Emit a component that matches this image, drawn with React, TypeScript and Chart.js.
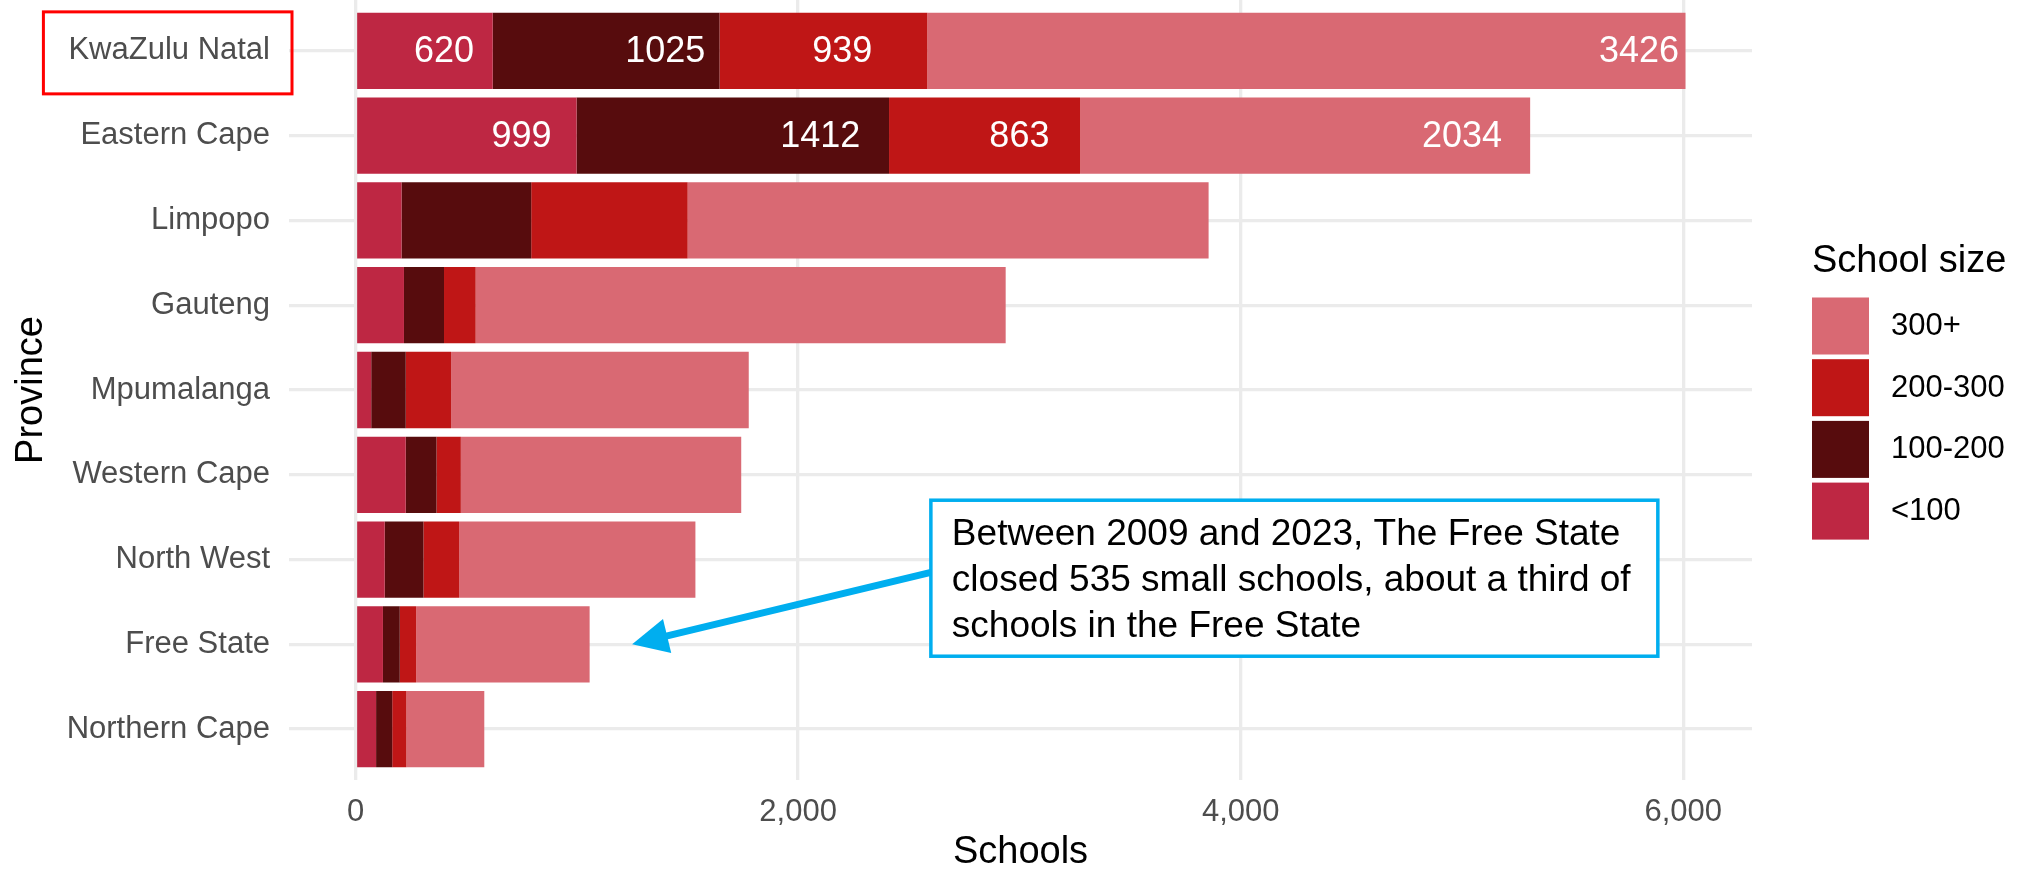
import React, { useEffect, useRef } from "react";
import { Chart, registerables } from "chart.js";

Chart.register(...registerables);

// ---------- data ----------
const provinces = [
  "KwaZulu Natal",
  "Eastern Cape",
  "Limpopo",
  "Gauteng",
  "Mpumalanga",
  "Western Cape",
  "North West",
  "Free State",
  "Northern Cape",
];
const sizeBands = ["<100", "100-200", "200-300", "300+"];
const under100 = [620, 999, 208, 219, 71, 227, 132, 124, 93];
const from100to200 = [1025, 1412, 586, 181, 156, 139, 175, 76, 73];
const from200to300 = [939, 863, 707, 143, 205, 110, 161, 74, 64];
const over300 = [3426, 2034, 2354, 2395, 1345, 1267, 1068, 784, 352];
const bandColors = ["#BE2743", "#570C0D", "#BF1616", "#D96973"];
const xTickValues = [0, 2000, 4000, 6000];

// value labels (anchors in data units) for the two top rows
const kznLabelAt = [400, 1400, 2200, 5800];
const ecLabelAt = [750, 2100, 3000, 5000];

// annotation (data units)
const noteLines = [
  "Between 2009 and 2023, The Free State",
  "closed 535 small schools, about a third of",
  "schools in the Free State",
];
const noteBoxX = [2600, 5885];
const noteBoxY = [5.3, 7.14];
const arrowFrom = [2600, 6.15];
const arrowTo = [1250, 7];

const FONT = '"Liberation Sans", Arial, Helvetica, sans-serif';
const BLUE = "#00AEEF";

const series = [under100, from100to200, from200to300, over300];

const overlay = {
  id: "overlay",
  afterDatasetsDraw(chart: any) {
    const { ctx } = chart;
    const x = chart.scales.x;
    const y = chart.scales.y;
    ctx.save();
    ctx.fillStyle = "#FFFFFF";
    ctx.font = `36px ${FONT}`;
    ctx.textAlign = "center";
    ctx.textBaseline = "middle";
    [kznLabelAt, ecLabelAt].forEach((anchors, row) => {
      anchors.forEach((a, k) => {
        ctx.fillText(String(series[k][row]), x.getPixelForValue(a), y.getPixelForValue(row) + 1);
      });
    });
    ctx.restore();
  },
  afterDraw(chart: any) {
    const { ctx } = chart;
    const x = chart.scales.x;
    const y = chart.scales.y;
    ctx.save();

    // legend
    ctx.fillStyle = "#000000";
    ctx.font = `38px ${FONT}`;
    ctx.textAlign = "left";
    ctx.textBaseline = "alphabetic";
    ctx.fillText("School size", 1812, 272);
    const order = [3, 2, 1, 0];
    ctx.font = `31px ${FONT}`;
    ctx.textBaseline = "middle";
    order.forEach((k, i) => {
      const top = 297.5 + i * 61.7;
      ctx.fillStyle = bandColors[k];
      ctx.fillRect(1812, top, 57, 57);
      ctx.fillStyle = "#000000";
      ctx.fillText(sizeBands[k], 1891, top + 29);
    });

    // annotation box
    const bx0 = x.getPixelForValue(noteBoxX[0]);
    const bx1 = x.getPixelForValue(noteBoxX[1]);
    const by0 = y.getPixelForValue(noteBoxY[0]);
    const by1 = y.getPixelForValue(noteBoxY[1]);
    ctx.fillStyle = "#FFFFFF";
    ctx.fillRect(bx0, by0, bx1 - bx0, by1 - by0);
    ctx.strokeStyle = BLUE;
    ctx.lineWidth = 3.5;
    ctx.strokeRect(bx0, by0, bx1 - bx0, by1 - by0);
    ctx.fillStyle = "#000000";
    ctx.font = `37px ${FONT}`;
    ctx.textAlign = "left";
    ctx.textBaseline = "middle";
    noteLines.forEach((t, i) => ctx.fillText(t, bx0 + 21, by0 + 35 + i * 46));

    // arrow
    const ax0 = x.getPixelForValue(arrowFrom[0]);
    const ay0 = y.getPixelForValue(arrowFrom[1]);
    const ax1 = x.getPixelForValue(arrowTo[0]);
    const ay1 = y.getPixelForValue(arrowTo[1]);
    const ang = Math.atan2(ay1 - ay0, ax1 - ax0);
    const headLen = 36;
    const headHalf = 17.5;
    const bxm = ax1 - headLen * Math.cos(ang);
    const bym = ay1 - headLen * Math.sin(ang);
    ctx.strokeStyle = BLUE;
    ctx.lineWidth = 7;
    ctx.beginPath();
    ctx.moveTo(ax0, ay0);
    ctx.lineTo(bxm + 2 * Math.cos(ang), bym + 2 * Math.sin(ang));
    ctx.stroke();
    ctx.fillStyle = BLUE;
    ctx.beginPath();
    ctx.moveTo(ax1, ay1);
    ctx.lineTo(bxm + headHalf * Math.sin(ang), bym - headHalf * Math.cos(ang));
    ctx.lineTo(bxm - headHalf * Math.sin(ang), bym + headHalf * Math.cos(ang));
    ctx.closePath();
    ctx.fill();

    // red box around first province label
    ctx.font = `31px ${FONT}`;
    const w = ctx.measureText(provinces[0]).width;
    const labelRight = chart.chartArea.left - 19;
    const cy = y.getPixelForValue(0) + 2;
    ctx.strokeStyle = "#FF0000";
    ctx.lineWidth = 3;
    ctx.strokeRect(labelRight - w - 25, cy - 41, w + 25 + 22, 82);

    ctx.restore();
  },
};

export default function App() {
  const ref = useRef<HTMLCanvasElement>(null);

  useEffect(() => {
    document.body.style.margin = "0";
    const canvas = ref.current;
    if (!canvas) return;

    const datasets = series.map((vals, k) => ({
      label: sizeBands[k],
      data: vals.map((v, i) => ({ x: v, y: i })),
      backgroundColor: bandColors[k],
      borderWidth: 0,
      barPercentage: 0.9,
      categoryPercentage: 1,
      stack: "all",
    }));

    const chart = new Chart(canvas, {
      type: "bar",
      data: { datasets },
      options: {
        indexAxis: "y",
        responsive: false,
        animation: false,
        events: [],
        layout: { padding: { left: 0, right: 273, top: 0, bottom: 0 } },
        plugins: {
          legend: { display: false },
          tooltip: { enabled: false },
          title: { display: false },
        },
        scales: {
          x: {
            type: "linear",
            position: "bottom",
            stacked: true,
            offset: false,
            min: -300.5,
            max: 6310.5,
            afterBuildTicks: (s: any) => {
              s.ticks = xTickValues.map((v) => ({ value: v }));
            },
            afterFit: (s: any) => {
              s.height = 89;
              s.paddingLeft = 0;
              s.paddingRight = 0;
            },
            ticks: {
              autoSkip: false,
              maxRotation: 0,
              minRotation: 0,
              padding: 14,
              color: "#4D4D4D",
              font: { family: FONT, size: 31 },
              callback: (v: any) => Number(v).toLocaleString("en-US"),
            },
            grid: { color: "#EBEBEB", lineWidth: 3.3, drawTicks: false, offset: false },
            border: { display: false },
            title: {
              display: true,
              text: "Schools",
              color: "#000000",
              font: { family: FONT, size: 38, lineHeight: 0.88 },
              padding: { top: 0, bottom: 0 },
            },
          },
          y: {
            type: "linear",
            position: "left",
            stacked: true,
            reverse: true,
            offset: false,
            min: -0.6,
            max: 8.6,
            afterBuildTicks: (s: any) => {
              s.ticks = provinces.map((_, i) => ({ value: i }));
            },
            afterFit: (s: any) => {
              s.width = 289;
              s.paddingTop = 0;
              s.paddingBottom = 0;
            },
            ticks: {
              autoSkip: false,
              padding: 19,
              color: "#4D4D4D",
              font: { family: FONT, size: 31 },
              callback: (v: any) => provinces[Math.round(Number(v))] ?? "",
            },
            grid: { color: "#EBEBEB", lineWidth: 3.3, drawTicks: false, offset: false },
            border: { display: false },
            title: {
              display: true,
              text: "Province",
              color: "#000000",
              font: { family: FONT, size: 38, lineHeight: 1 },
              padding: { top: 13, bottom: 0 },
            },
          },
        },
      },
      plugins: [overlay],
    } as any);

    return () => chart.destroy();
  }, []);

  return (
    <canvas
      ref={ref}
      width={2025}
      height={869}
      style={{ display: "block", width: "2025px", height: "869px" }}
    />
  );
}
